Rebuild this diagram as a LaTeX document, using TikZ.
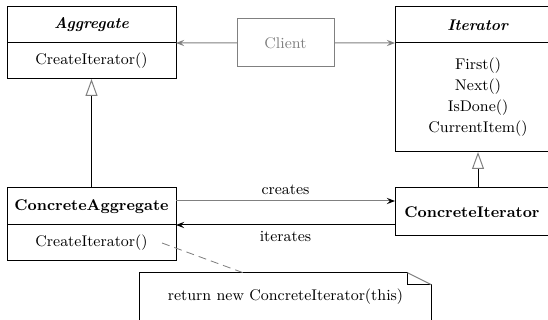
\documentclass[tikz,border=0pt]{standalone}
\usetikzlibrary{positioning,arrows.meta}

\tikzset{
  classhead/.style={draw, line width=0.6pt, inner sep=0pt, outer sep=0pt,
    minimum width=101.4pt, minimum height=21.6pt},
  classbody/.style={classhead, align=center},
  clientbox/.style={draw=gray, text=gray, line width=0.6pt, inner sep=0pt,
    outer sep=0pt, minimum width=58.2pt, minimum height=28.8pt},
  uses/.style={draw=gray, line width=0.6pt,
    -{Stealth[length=5pt,width=3.8pt,inset=2pt,color=gray]}},
  assoc/.style={line width=0.6pt, -{Stealth[length=5pt,width=3.8pt,inset=2pt,color=black]}},
  inherits/.style={line width=0.6pt, -{Triangle[open,length=10.2pt,width=7.2pt,color=gray]}},
}

\begin{document}
\begin{tikzpicture}[x=0.6pt,y=-0.6pt,font=\fontsize{9.3pt}{12.6pt}\selectfont]
\useasboundingbox (0,0) rectangle (548,320);

% abstract classes
\node[classhead] (agg) at (91.5,25) {\textbf{\textit{Aggregate}}};
\node[classbody, below=0pt of agg] (aggops) {CreateIterator()};

\node[classhead, minimum width=99.6pt] (it) at (478,25) {\textbf{\textit{Iterator}}};
\node[classbody, minimum width=99.6pt, minimum height=65.4pt, below=0pt of it] (itops)
  {First()\\Next()\\IsDone()\\CurrentItem()};

\node[clientbox] (client) at (285.5,43) {Client};

% concrete classes
\node[classhead, minimum height=22.2pt] (cagg) at (91.5,206.5) {\textbf{ConcreteAggregate}};
\node[classbody, below=0pt of cagg] (cops) {CreateIterator()};

\node[classhead, minimum width=92.4pt, minimum height=28.8pt] (cit) at (472,212)
  {\textbf{ConcreteIterator}};

% note
\node[inner sep=0pt, minimum width=174.6pt, minimum height=28.8pt] (note) at (285.5,297)
  {return new ConcreteIterator(this)};
\draw[line width=0.6pt] (note.south west) -- (note.north west) -- ([xshift=-14.4pt]note.north east)
  -- ([xshift=-14.4pt,yshift=-7.2pt]note.north east) -- ([yshift=-7.2pt]note.north east)
  -- (note.south east);
\draw[gray, line width=0.6pt] ([xshift=-14.4pt]note.north east) -- ([yshift=-7.2pt]note.north east);
\draw[gray, dashed, dash pattern=on 4.8pt off 3pt, line width=0.5pt]
  ([xshift=-8.4pt]cops.east) -- ([xshift=-25.5pt]note.north);

% connectors
\draw[uses] (client.west) -- (agg.south east);
\draw[uses] (client.east) -- (it.south west);
\draw[inherits] (cagg.north) -- (aggops.south);
\draw[inherits] (it.south |- cit.north) -- (itops.south);
\draw[assoc, draw=gray] ([yshift=3.3pt]cagg.east) -- ([yshift=3.3pt]cagg.east -| cit.west)
  node[midway, above, text=black] {creates};
\draw[assoc] (cagg.south east -| cit.west) -- (cagg.south east)
  node[midway, below] {iterates};

\end{tikzpicture}
\end{document}
